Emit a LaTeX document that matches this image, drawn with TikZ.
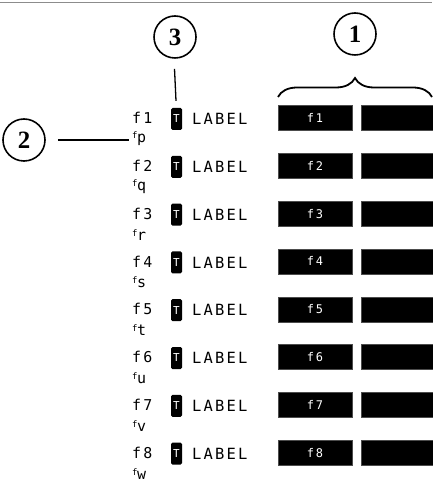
\documentclass[tikz,border=0pt]{standalone}
\usepackage{fontspec}
\setmainfont{Liberation Serif}
\newfontfamily\monof{DejaVu Sans Mono}
\newfontfamily\spacedf[LetterSpace=14]{DejaVu Sans Mono}
\usetikzlibrary{decorations.pathreplacing}
\begin{document}
\begin{tikzpicture}[x=1bp,y=-1bp,
  callout/.style={draw,circle,line width=1.6pt,minimum size=42bp,inner sep=0pt,font=\fontsize{25}{25}\selectfont\bfseries},
  fkey/.style={font=\spacedf\fontsize{15}{15}\selectfont,anchor=west,inner sep=0pt},
  subkey/.style={font=\monof\fontsize{15}{15}\selectfont,anchor=west,inner sep=0pt},
  tbox/.style={fill=black,text=white,rounded corners=1.5bp,minimum width=11bp,minimum height=22bp,inner sep=0pt,font=\monof\fontsize{11}{11}\selectfont},
  lab/.style={font=\spacedf\fontsize{15.5}{15.5}\selectfont,anchor=west,inner sep=0pt},
  keybox/.style={fill=black,draw=black!70,line width=0.4pt,minimum height=25bp,inner sep=0pt,text=white,font=\spacedf\fontsize{12}{12}\selectfont},
  lead/.style={line width=1.3pt}
]
\useasboundingbox (0,0) rectangle (432,482);
\draw[black!45,line width=0.8pt] (0,2) -- (432,2);

\node[callout] (c3) at (175,37) {3};
\node[callout] (c1) at (355,34) {1};
\node[callout] (c2) at (24,140) {2};

\foreach \i/\s [count=\k from 0] in {1/p,2/q,3/r,4/s,5/t,6/u,7/v,8/w} {
  \pgfmathsetmacro{\yy}{118+47.8*\k}
  \node[fkey] (f\i) at (132,\yy) {f\i};
  \node[subkey] (s\i) at (132,\yy+21) {\raisebox{4bp}{\fontsize{9}{9}\selectfont f}\kern-0.5bp\s};
  \node[tbox] (t\i) at (176.5,\yy+1) {T};
  \node[lab] (l\i) at (192,\yy+1) {LABEL};
  \node[keybox,minimum width=74bp] (k\i) at (315,\yy) {f\i};
  \node[keybox,minimum width=72bp] (r\i) at (397,\yy) {};
}

\draw[lead] ([xshift=-0.5bp,yshift=-10bp]c3.south) -- ([xshift=-0.5bp,yshift=7bp]t1.north);
\draw[lead] ([xshift=12bp]c2.east) -- ([xshift=-3bp]s1.west |- c2.east);
\coordinate (bl) at (278,97);
\coordinate (br) at (432,97);
\draw[line width=1.8pt,decorate,decoration={brace,amplitude=19bp,aspect=0.5}] (bl) -- (br);
\end{tikzpicture}
\end{document}
